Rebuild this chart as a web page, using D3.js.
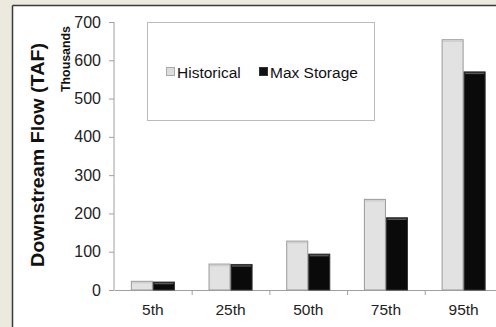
<!DOCTYPE html>
<html><head><meta charset="utf-8">
<script src="https://cdn.jsdelivr.net/npm/d3@7"></script>
<style>body{margin:0;background:#ECE9DF;}svg{display:block}</style>
</head><body>
<svg id="c" width="496" height="327"></svg>
<script>
const categories = ["5th","25th","50th","75th","95th"];
const historical = [24, 69, 129, 238, 655];
const maxStorage = [22, 68, 95, 190, 571];
const yTicks = [0,100,200,300,400,500,600,700];
const seriesNames = ["Historical","Max Storage"];

const FONT = "Liberation Sans, Arial, sans-serif";
const svg = d3.select("#c");

// panel
svg.append("rect").attr("x",13).attr("y",6).attr("width",500).attr("height",340).attr("fill","#fff");
svg.append("line").attr("x1",12.5).attr("x2",12.5).attr("y1",5.5).attr("y2",327).attr("stroke","#3a3a3a").attr("stroke-width",1.5);
svg.append("line").attr("x1",12.5).attr("x2",496).attr("y1",5.5).attr("y2",5.5).attr("stroke","#3a3a3a").attr("stroke-width",1.5);

const x0 = 114, x1 = 114 + 77.7*5;
const x = d3.scaleBand().domain(categories).range([x0,x1]).paddingInner(0.433).paddingOuter(0.217);
const xs = d3.scaleBand().domain(seriesNames).range([0,x.bandwidth()]);
const y = d3.scaleLinear().domain([0,700]).range([290,22]);

// y axis
const ya = svg.append("g").attr("transform",`translate(${x0},0)`)
  .call(d3.axisLeft(y).tickValues(yTicks).tickSize(5).tickPadding(8));
ya.select(".domain").attr("stroke","#a0a0a0").attr("d",`M-0,${y(700)}V${y(0)}`);
ya.selectAll(".tick line").attr("stroke","#a0a0a0");
ya.selectAll("text").attr("font-family",FONT).attr("font-size","16px").attr("fill","#222");

// x axis
const xa = svg.append("g").attr("transform",`translate(0,${y(0)})`)
  .call(d3.axisBottom(x).tickSize(0).tickPadding(14));
xa.select(".domain").attr("stroke","#a0a0a0");
xa.selectAll("text").attr("font-family",FONT).attr("font-size","15.5px").attr("fill","#222");
const step = x.step();
svg.append("g").selectAll("line").data(d3.range(1,5)).join("line")
  .attr("x1",i=>x0+i*step+0.5).attr("x2",i=>x0+i*step+0.5)
  .attr("y1",y(0)).attr("y2",y(0)+5).attr("stroke","#a0a0a0");

// bars
const series = [{name:"Historical",vals:historical,fill:"#e2e2e2",stroke:"#9a9a9a"},
                {name:"Max Storage",vals:maxStorage,fill:"#0a0a0a",stroke:"#333"}];
series.forEach(s=>{
  const g = svg.append("g");
  g.selectAll("rect").data(categories).join("rect")
    .attr("x",(c)=>x(c)+xs(s.name)+0.5)
    .attr("y",(c,i)=>y(s.vals[i])+0.5)
    .attr("width",xs.bandwidth()-1)
    .attr("height",(c,i)=>y(0)-y(s.vals[i])-0.5)
    .attr("fill",s.fill).attr("stroke",s.stroke).attr("stroke-width",1);
  g.selectAll("line").data(categories).join("line")
    .attr("x1",(c)=>x(c)+xs(s.name)+1.5)
    .attr("x2",(c)=>x(c)+xs(s.name)+xs.bandwidth()-1.5)
    .attr("y1",(c,i)=>y(s.vals[i])+2)
    .attr("y2",(c,i)=>y(s.vals[i])+2)
    .attr("stroke", s.name==="Historical" ? "#cfcfcf" : "#555").attr("stroke-width",1.5);
});

// legend
svg.append("rect").attr("x",147.5).attr("y",22.5).attr("width",227).attr("height",98)
  .attr("fill","#fff").attr("stroke","#bbb");
const lg = svg.append("g").attr("font-family",FONT).attr("font-size","15.5px").attr("fill","#111");
[["Historical",166,"#ddd","#aaa"],["Max Storage",259,"#111","#333"]].forEach(([t,lx,f,st])=>{
  lg.append("rect").attr("x",lx+0.5).attr("y",67.5).attr("width",8).attr("height",8).attr("fill",f).attr("stroke",st);
  lg.append("text").attr("x",lx+11).attr("y",77.5).text(t);
});

// titles
svg.append("text").attr("transform","translate(44,155) rotate(-90)").attr("text-anchor","middle")
  .attr("font-family",FONT).attr("font-weight","bold").attr("font-size","19px").attr("fill","#111")
  .attr("textLength",224).attr("lengthAdjust","spacingAndGlyphs")
  .text("Downstream  Flow (TAF)");
svg.append("text").attr("transform","translate(70,59) rotate(-90)").attr("text-anchor","middle")
  .attr("font-family",FONT).attr("font-weight","bold").attr("font-size","12px").attr("fill","#111")
  .attr("textLength",66).attr("lengthAdjust","spacingAndGlyphs")
  .text("Thousands");
</script>
</body></html>
